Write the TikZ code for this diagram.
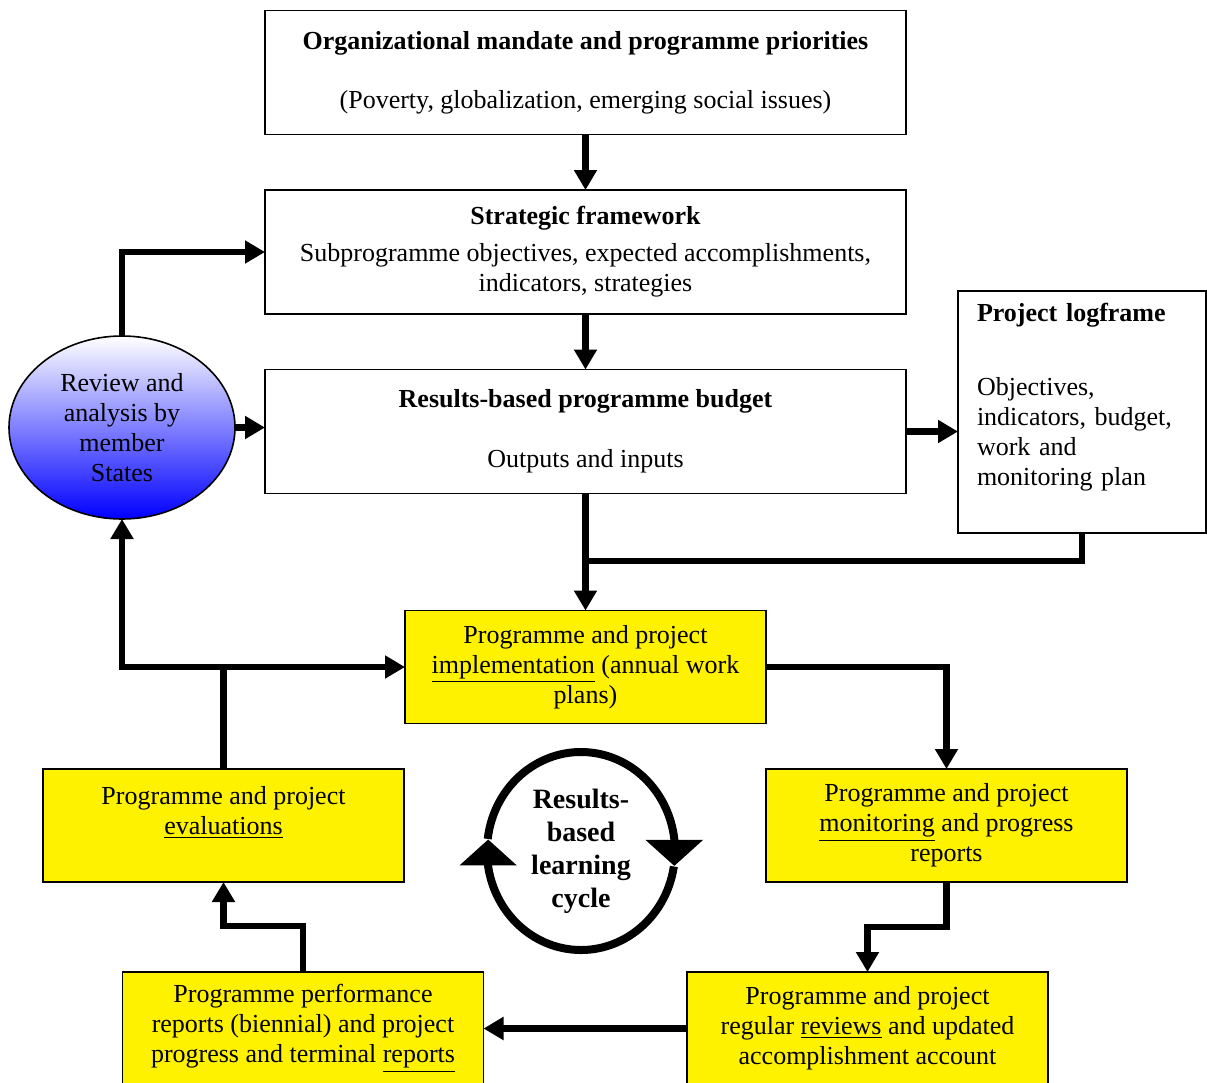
\documentclass[tikz,border=0pt]{standalone}
\usepackage{fontspec}
\setmainfont{Liberation Serif}
\usepackage{tikz}
\usetikzlibrary{calc}
\usetikzlibrary{arrows.meta}
\usetikzlibrary{shapes.geometric}
\usetikzlibrary{positioning}

\begin{document}
\begin{tikzpicture}[x=0.5pt,y=-0.5pt,
    every node/.style={font=\fontsize{13}{15}\selectfont, align=center, inner sep=0pt, outer sep=0pt},
    frame/.style={draw, line width=0.8pt, fill=white},
    plan/.style={frame, minimum width=320.5pt, minimum height=62pt},
    stage/.style={draw, line width=0.8pt, fill=yellow, minimum width=180.5pt, minimum height=56.5pt},
    link/.style={line width=3.2pt},
    flow/.style={link, -{Triangle[length=10pt,width=11pt]}},
    turn/.style={line width=4pt, -{Triangle[length=13pt,width=28pt]}}]
  \useasboundingbox (0,0) rectangle (1207,1083);

  \node[plan] (mandate) at (585.5,72.5) {\textbf{Organizational mandate and programme priorities}\\[14.5pt](Poverty, globalization, emerging social issues)};
  \node[plan] (strategic) at (585.5,252) {\textbf{Strategic framework}\\[3.5pt]Subprogramme objectives, expected accomplishments,\\indicators, strategies};
  \node[plan] (budget) at (585.5,431.5) {\textbf{Results-based programme budget}\\[15pt]Outputs and inputs};
  \node[frame, minimum width=124pt, minimum height=121pt, text width=105pt, align=left] (logframe) at (1082,412)
    {\textbf{Project logframe}\\[22pt]Objectives,\\indicators, budget,\\work and\\monitoring plan\\[2.5pt]\mbox{}};
  \node[draw, line width=0.8pt, ellipse, minimum width=113pt, minimum height=91.5pt, top color=white, bottom color=blue] (review) at (122,427.5)
    {Review and\\analysis by\\member\\States};

  \node[stage] (impl) at (585.5,667) {Programme and project\\\underline{implementation} (annual work\\plans)};
  \node[stage] (monitor) at (946.5,825.5) {Programme and project\\\underline{monitoring} and progress\\reports};
  \node[stage] (eval) at (223.5,825.5) {Programme and project\\\underline{evaluations}\\\mbox{}};
  \node[stage] (reviews) at (867.5,1028.5) {Programme and project\\regular \underline{reviews} and updated\\accomplishment account};
  \node[stage] (reports) at (303,1028.5) {Programme performance\\reports (biennial) and project\\progress and terminal \underline{reports}};

  \node[font=\fontsize{14}{16.5}\selectfont\bfseries] (cycle) at (581,851) {Results-\\based\\learning\\cycle};
  \coordinate (merge) at (585.5,561);

  \draw[flow] (mandate) -- (strategic);
  \draw[flow] (strategic) -- (budget);
  \draw[flow] (budget.east) -- (budget.east -| logframe.west);
  \draw[flow] (budget) -- (impl);
  \draw[link] (logframe.south) |- (merge);
  \draw[flow] (review.north) |- (strategic.west);
  \draw[flow] (review.east) -- (review.east -| budget.west);
  \draw[link, {Triangle[length=10pt,width=11pt]}-{Triangle[length=10pt,width=11pt]}] (review.south) |- (impl.west);
  \draw[link] (eval.north) -- (eval.north |- impl.west);
  \draw[flow] (impl.east) -| (monitor.north);
  \draw[flow] (monitor.south) -- ++(0,45) -| (reviews.north);
  \draw[flow] (reviews.west) -- (reports.east);
  \draw[flow] (reports.north) -- ++(0,-46) -| (eval.south);

  \draw[turn] ($(cycle)+(187:94 and 99)$) arc[start angle=187, end angle=353, x radius=94, y radius=99] -- ++(0,27);
  \draw[turn] ($(cycle)+(9:94 and 99)$) arc[start angle=9, end angle=171, x radius=94, y radius=99] -- ++(0,-27);
\end{tikzpicture}
\end{document}
